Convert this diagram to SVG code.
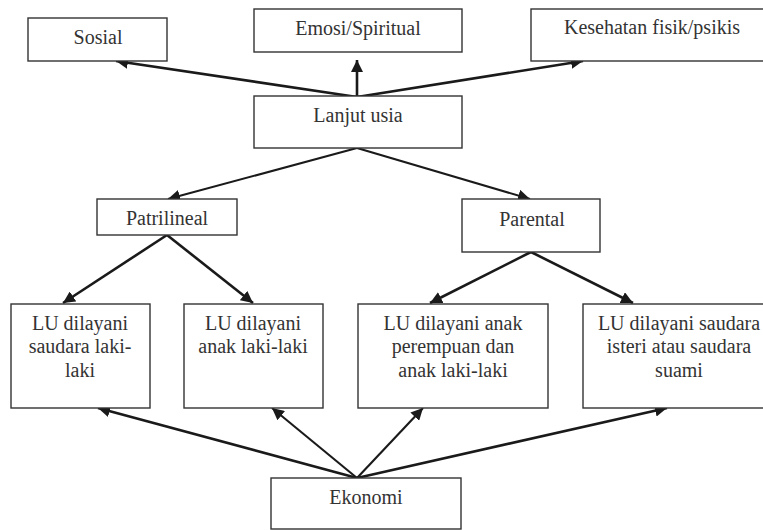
<svg xmlns="http://www.w3.org/2000/svg" width="763" height="530" viewBox="0 0 763 530">
<style>
.box{fill:#fff;stroke:#333;stroke-width:1.4}
.t{font-family:'Liberation Serif','DejaVu Serif','Noto Serif',serif;font-size:20px;fill:#333;text-anchor:middle}
.c{stroke:#1a1a1a;stroke-width:2.6;fill:none;marker-end:url(#ah)}
.c2{stroke-width:2.1}
</style>
<defs>
<marker id="ah" markerUnits="userSpaceOnUse" markerWidth="13" markerHeight="12" refX="12" refY="6" orient="auto">
<path d="M0,0 L12,6 L0,12 z" fill="#1a1a1a"/>
</marker>
</defs>
<rect width="763" height="530" fill="#fff"/>
<g id="connectors">
<line class="c" x1="357" y1="97" x2="116" y2="61"/>
<line class="c" x1="357" y1="97" x2="357" y2="60"/>
<line class="c" x1="357" y1="97" x2="583" y2="61"/>
<line class="c c2" x1="357" y1="148" x2="168" y2="199"/>
<line class="c c2" x1="357" y1="148" x2="530" y2="199"/>
<line class="c" x1="167" y1="235" x2="63" y2="303"/>
<line class="c" x1="167" y1="235" x2="253" y2="303"/>
<line class="c" x1="531" y1="252" x2="430" y2="303"/>
<line class="c" x1="531" y1="252" x2="633" y2="303"/>
<line class="c" x1="357" y1="478" x2="98" y2="408"/>
<line class="c c2" x1="357" y1="478" x2="272" y2="408"/>
<line class="c c2" x1="357" y1="478" x2="423" y2="408"/>
<line class="c" x1="357" y1="478" x2="667" y2="408"/>
</g>
<g id="sosial"><rect class="box" x="28" y="18" width="139" height="43"/><text class="t" x="98" y="44">Sosial</text></g>
<g id="emosi"><rect class="box" x="254" y="9" width="208" height="43"/><text class="t" x="358" y="35">Emosi/Spiritual</text></g>
<g id="kesehatan"><rect class="box" x="531" y="9" width="241" height="52"/><text class="t" x="652" y="34">Kesehatan fisik/psikis</text></g>
<g id="lanjut"><rect class="box" x="254" y="96" width="208" height="52"/><text class="t" x="358" y="122">Lanjut usia</text></g>
<g id="patrilineal"><rect class="box" x="97" y="199" width="140" height="36"/><text class="t" x="167" y="225">Patrilineal</text></g>
<g id="parental"><rect class="box" x="462" y="199" width="138" height="53"/><text class="t" x="532" y="226">Parental</text></g>
<g id="lu1"><rect class="box" x="11" y="304" width="139" height="104"/><text class="t" x="80" y="330">LU dilayani</text><text class="t" x="80" y="353">saudara laki-</text><text class="t" x="80" y="377">laki</text></g>
<g id="lu2"><rect class="box" x="184" y="304" width="139" height="104"/><text class="t" x="253" y="330">LU dilayani</text><text class="t" x="253" y="353">anak laki-laki</text></g>
<g id="lu3"><rect class="box" x="358" y="304" width="190" height="104"/><text class="t" x="453" y="330">LU dilayani anak</text><text class="t" x="453" y="353">perempuan dan</text><text class="t" x="453" y="377">anak laki-laki</text></g>
<g id="lu4"><rect class="box" x="583" y="304" width="192" height="104"/><text class="t" x="679" y="330">LU dilayani saudara</text><text class="t" x="679" y="353">isteri atau saudara</text><text class="t" x="679" y="377">suami</text></g>
<g id="ekonomi"><rect class="box" x="271" y="478" width="190" height="51"/><text class="t" x="366" y="504">Ekonomi</text></g>
</svg>
